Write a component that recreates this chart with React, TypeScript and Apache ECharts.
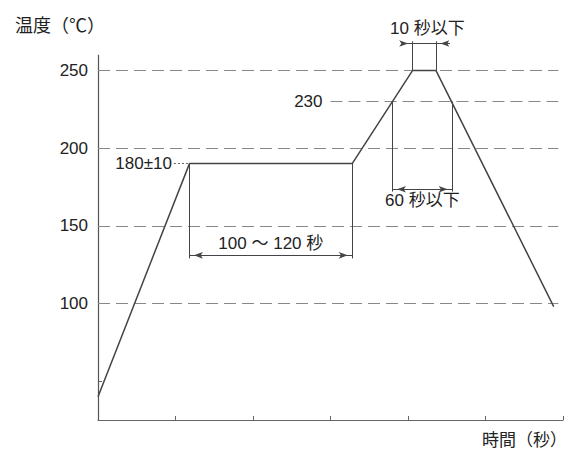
import React, { useEffect, useRef } from "react";
import * as echarts from "echarts";

const FONT = "'Liberation Sans', 'Noto Sans CJK JP', sans-serif";

// axis
const yAxisTitle = "温度（℃）";
const xAxisTitle = "時間（秒）";
const yLabelValues = [100, 150, 200, 250];
const yMinorTicks = [50];
const yAxisExtent = [25, 260];

// temperature profile (time s, temp ℃)
const profileTime = [0, 59, 164, 203, 218, 294];
const profileTemp = [40, 190, 190, 250, 250, 98];

// dashed guide lines
const guideTemps = [100, 150, 200, 250];
const guideEnd = 297;
const peakGuideTemp = 230;
const peakGuideStart = 150;

// annotations
const preheatSpan = [59, 164];
const preheatTemp = 190;
const preheatDim = [131, 129]; // arrow level, vertical bottom
const preheatLabel = "100 ～ 120 秒";
const preheatTempLabel = "180±10";
const preheatLeader = [49, 58];

const reflowSpan = [190, 228.5];
const reflowDim = [173.5, 172];
const reflowLabel = "60 秒以下";

const peakSpan = [203, 218];
const peakDim = [267.3, 268.7];
const peakArrowOuter = [198, 227];
const peakLabel = "10 秒以下";

const TEXT = "#222";
const DARK = "#444";

const labelStyle = { color: TEXT, fontSize: 17, fontFamily: FONT };

export default function App() {
  const ref = useRef<HTMLDivElement>(null);
  useEffect(() => {
    if (!ref.current) return;
    const chart = echarts.init(ref.current, null, { renderer: "svg" });

    const seg = (a: number[], b: number[], extra: any = {}) => [
      { coord: a, ...extra },
      { coord: b },
    ];

    chart.setOption({
      animation: false,
      textStyle: { fontFamily: FONT },
      title: {
        text: yAxisTitle,
        left: 10,
        top: 12,
        textStyle: { color: TEXT, fontSize: 18, fontWeight: "normal", fontFamily: FONT },
      },
      grid: { left: 98, right: 5, top: 16, bottom: 30, outerBoundsMode: "none", containLabel: false },
      xAxis: {
        type: "value",
        min: 0,
        max: 300,
        interval: 50,
        name: xAxisTitle,
        nameLocation: "end",
        nameGap: 4,
        nameTextStyle: {
          color: TEXT,
          fontSize: 17,
          fontFamily: FONT,
          align: "right",
          verticalAlign: "top",
          padding: [12, 0, 0, 0],
        },
        axisLine: { show: true, lineStyle: { color: "#666", width: 1.2 } },
        axisTick: { show: true, inside: true, length: 4, lineStyle: { color: "#666" } },
        axisLabel: { show: false },
        splitLine: { show: false },
      },
      yAxis: {
        type: "value",
        min: 25,
        max: 285,
        axisLine: { show: false },
        axisTick: {
          show: true,
          inside: true,
          length: 4,
          customValues: yMinorTicks,
          lineStyle: { color: "#666" },
        },
        axisLabel: {
          show: true,
          customValues: yLabelValues,
          margin: 10,
          color: TEXT,
          fontSize: 17,
          fontFamily: FONT,
        },
        splitLine: { show: false },
      },
      series: [
        {
          type: "line",
          name: "profile",
          data: profileTime.map((t, i) => [t, profileTemp[i]]),
          symbol: "none",
          silent: true,
          z: 5,
          lineStyle: { color: DARK, width: 1.5 },
        },
        {
          type: "line",
          name: "yaxis",
          data: [],
          markLine: {
            silent: true,
            symbol: "none",
            label: { show: false },
            lineStyle: { color: "#555", width: 1.2, type: "solid" },
            data: [seg([0, yAxisExtent[0]], [0, yAxisExtent[1]])],
          },
        },
        {
          type: "line",
          name: "guides",
          data: [],
          markLine: {
            silent: true,
            symbol: "none",
            label: { show: false },
            lineStyle: { color: "#888", width: 1.2, type: [12, 6] },
            data: [
              ...guideTemps.map((t) => seg([0, t], [guideEnd, t])),
              seg([peakGuideStart, peakGuideTemp], [guideEnd, peakGuideTemp], {
                label: {
                  show: true,
                  position: "start",
                  distance: 8,
                  formatter: String(peakGuideTemp),
                  ...labelStyle,
                },
              }),
            ],
          },
        },
        {
          type: "line",
          name: "dims",
          data: [],
          markLine: {
            silent: true,
            symbol: "none",
            label: { show: false },
            lineStyle: { color: DARK, width: 1, type: "solid" },
            data: [
              seg([preheatSpan[0], preheatTemp], [preheatSpan[0], preheatDim[1]]),
              seg([preheatSpan[1], preheatTemp], [preheatSpan[1], preheatDim[1]]),
              seg([reflowSpan[0], peakGuideTemp], [reflowSpan[0], reflowDim[1]]),
              seg([reflowSpan[1], peakGuideTemp], [reflowSpan[1], reflowDim[1]]),
              seg([peakSpan[0], 250], [peakSpan[0], peakDim[1]]),
              seg([peakSpan[1], 250], [peakSpan[1], peakDim[1]]),
              seg([peakArrowOuter[0], peakDim[0]], [peakArrowOuter[1], peakDim[0]], {
                label: {
                  show: true,
                  position: "insideMiddleTop",
                  distance: 7,
                  formatter: peakLabel,
                  ...labelStyle,
                },
              }),
            ],
          },
        },
        {
          type: "line",
          name: "arrows2",
          data: [],
          markLine: {
            silent: true,
            symbol: ["arrow", "arrow"],
            symbolSize: [5, 9],
            symbolOffset: [
              [0, 4.5],
              [0, 4.5],
            ],
            label: { show: false },
            lineStyle: { color: DARK, width: 1, type: "solid" },
            data: [
              seg([preheatSpan[0], preheatDim[0]], [preheatSpan[1], preheatDim[0]], {
                label: {
                  show: true,
                  position: "insideMiddleTop",
                  distance: 3,
                  formatter: preheatLabel,
                  ...labelStyle,
                },
              }),
              seg([reflowSpan[0], reflowDim[0]], [reflowSpan[1], reflowDim[0]], {
                label: {
                  show: true,
                  position: "insideMiddleBottom",
                  distance: 3,
                  formatter: reflowLabel,
                  ...labelStyle,
                },
              }),
            ],
          },
        },
        {
          type: "line",
          name: "arrows1",
          data: [],
          markLine: {
            silent: true,
            symbol: ["none", "arrow"],
            symbolSize: [5, 9],
            symbolOffset: [
              [0, 0],
              [0, 4.5],
            ],
            label: { show: false },
            lineStyle: { color: DARK, width: 1, type: "solid" },
            data: [
              seg([peakArrowOuter[0], peakDim[0]], [peakSpan[0], peakDim[0]]),
              seg([peakArrowOuter[1], peakDim[0]], [peakSpan[1], peakDim[0]]),
            ],
          },
        },
        {
          type: "line",
          name: "leader",
          data: [],
          markLine: {
            silent: true,
            symbol: "none",
            lineStyle: { color: "#666", width: 1, type: [2, 2] },
            data: [
              seg([preheatLeader[0], preheatTemp], [preheatLeader[1], preheatTemp], {
                label: {
                  show: true,
                  position: "start",
                  distance: 2,
                  formatter: preheatTempLabel,
                  ...labelStyle,
                },
              }),
            ],
          },
        },
      ],
    });
    return () => chart.dispose();
  }, []);
  return (
    <div
      ref={ref}
      style={{ position: "fixed", left: 0, top: 0, width: 568, height: 450, background: "#fff" }}
    />
  );
}
